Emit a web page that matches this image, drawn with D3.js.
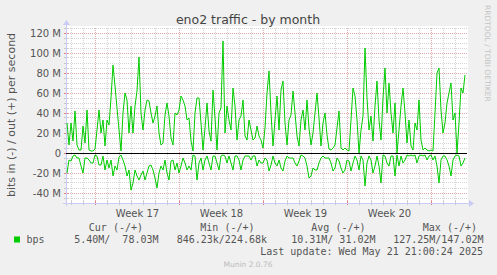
<!DOCTYPE html>
<html><head><meta charset="utf-8">
<script src="https://cdn.jsdelivr.net/npm/d3@7"></script>
<style>html,body{margin:0;padding:0;background:#f0f0f0;overflow:hidden}svg{display:block}text{white-space:pre}</style>
</head><body><svg id="c" width="497" height="275"></svg>
<script>
// Series values in Mbit/s, one sample every 4 hours
const outMbps = [30,8,30,12,42,8,3,3,27,10,
43,3,2,2,4,23,43,20,33,7,
33,28,55,88,67,45,23,2,40,60,
53,20,47,20,47,62,96,40,23,43,
53,52,40,30,37,47,20,8,10,38,
50,37,15,8,40,38,43,57,53,47,
33,35,12,2,40,55,55,30,3,25,
50,22,12,63,35,3,40,45,112,20,
47,33,23,65,47,13,33,37,53,17,
13,33,23,13,15,27,17,13,5,25,
60,82,40,7,33,57,23,63,72,30,
8,33,38,62,40,17,7,33,43,23,
53,25,8,20,40,60,35,7,30,40,
18,4,3,5,8,25,42,5,3,5,
3,2,33,65,57,33,0,23,37,105,
55,23,37,12,47,72,33,13,55,85,
40,70,40,20,50,0,23,47,65,40,
10,33,7,3,30,23,53,13,3,5,
3,2,3,2,40,80,85,43,20,30,
50,60,70,33,40,0,30,65,60,78];
const inMbps = [20,7,8,3,2,5,5,13,20,5,
5,7,10,10,2,3,12,12,3,17,
7,15,7,23,13,17,4,2,7,13,
23,17,37,30,17,23,27,22,18,27,
20,13,12,17,25,35,20,13,17,7,
20,27,8,7,17,10,20,13,5,10,
17,13,17,2,3,27,10,5,17,7,
3,10,17,3,3,10,17,3,2,3,
10,3,10,17,3,3,7,17,7,3,
3,3,7,3,3,13,7,10,10,5,
7,18,12,3,10,13,7,15,18,8,
3,5,5,5,10,13,8,2,3,5,
13,25,23,15,17,17,10,5,3,5,
5,5,10,18,15,5,8,15,20,17,
7,8,18,10,3,7,17,3,7,33,
10,3,7,20,13,3,13,30,2,3,
10,13,3,3,23,2,13,3,10,7,
2,3,2,3,2,10,3,2,3,2,
7,3,2,7,3,13,30,7,3,3,
7,13,23,7,3,2,3,13,10,5];
const yTickValues = [-40,-20,0,20,40,60,80,100,120];
const yTickLabels = ["-40 M","-20 M","0","20 M","40 M","60 M","80 M","100 M","120 M"];
const weekLabels = ["Week 17","Week 18","Week 19","Week 20"];
const legendHeaders = ["Cur (-/+)","Min (-/+)","Avg (-/+)","Max (-/+)"];
const legendValues = ["5.40M/  78.03M","846.23k/224.68k","10.31M/ 31.02M","127.25M/147.02M"];
const seriesName = "bps";
const title = "eno2 traffic - by month";
const yTitle = "bits in (-) / out (+) per second";
const lastUpdate = "Last update: Wed May 21 21:00:24 2025";

const H = 3600e3;
const tEnd = Date.UTC(2025,4,21,21,0,24);
const t0 = tEnd - 800*H;
const times = outMbps.map((_,i)=> new Date(t0 + 2*H + i*4*H));

const svg = d3.select("#c");
const L=66, R=466, T=28, B=203;
const x = d3.scaleUtc().domain([new Date(t0), new Date(tEnd)]).range([L,R]);
const y = d3.scaleLinear().domain([-50e6,125e6]).range([B,T]);
const px = v => Math.floor(v)+0.5;

svg.append("rect").attr("x",L).attr("y",T-2).attr("width",R-L+2).attr("height",B-T+2).attr("fill","#fff");

const g = svg.append("g");
// horizontal grid
d3.range(-45,126,5).forEach(v=>{
  const major = v%20===0;
  g.append("line").attr("x1",L).attr("x2",R+1).attr("y1",px(y(v*1e6))).attr("y2",px(y(v*1e6)))
   .attr("stroke", major? "#e4a8a8":"#d4d4d4").attr("stroke-dasharray","1,1");
});
// vertical grid
const days = d3.utcDay.range(new Date(t0), new Date(tEnd));
days.forEach(d=>{
  const major = d.getUTCDay()===1;
  g.append("line").attr("y1",T).attr("y2",B).attr("x1",px(x(d))).attr("x2",px(x(d)))
   .attr("stroke", major? "#e4a8a8":"#d4d4d4").attr("stroke-dasharray","1,1");
  g.append("line").attr("y1",B-2).attr("y2",B+2).attr("x1",px(x(d))).attr("x2",px(x(d)))
   .attr("stroke", major? "#e08080":"#c8c8c8");
});
// y ticks on axis
d3.range(-45,126,5).forEach(v=>{
  const major = v%20===0;
  g.append("line").attr("x1",L-2).attr("x2",L+2).attr("y1",px(y(v*1e6))).attr("y2",px(y(v*1e6)))
   .attr("stroke", major? "#e08080":"#c8c8c8");
});

// axes
const axc = "#c8ccf4";
svg.append("line").attr("x1",L-3).attr("x2",R+3).attr("y1",px(B)).attr("y2",px(B)).attr("stroke",axc);
svg.append("line").attr("x1",px(L)).attr("x2",px(L)).attr("y1",B+3).attr("y2",T-3).attr("stroke",axc);
svg.append("path").attr("d",`M${R+3},${B-3}L${R+8},${B+0.5}L${R+3},${B+4}Z`).attr("fill",axc);
svg.append("path").attr("d",`M${L-3},${T-3}L${L+0.5},${T-8}L${L+4},${T-3}Z`).attr("fill",axc);

// zero line
svg.append("line").attr("x1",L).attr("x2",R+1).attr("y1",y(0)+0.5).attr("y2",y(0)+0.5).attr("stroke","#000").attr("stroke-width",1.2);

// series
const lineOut = d3.line().x((d,i)=>x(times[i])).y(d=>y(d*1e6));
const lineIn = d3.line().x((d,i)=>x(times[i])).y(d=>y(-d*1e6));
svg.append("path").attr("d",lineOut(outMbps)).attr("fill","none").attr("stroke","#00cc00").attr("stroke-width",1);
svg.append("path").attr("d",lineIn(inMbps)).attr("fill","none").attr("stroke","#00cc00").attr("stroke-width",1);

const sans = "DejaVu Sans", mono = "DejaVu Sans Mono";
// y tick labels
yTickValues.forEach((v,i)=>{
  svg.append("text").attr("x",61).attr("y",y(v*1e6)+3.5).attr("text-anchor","end")
   .attr("font-family",sans).attr("font-size",10).attr("fill","#555").text(yTickLabels[i]);
});
// week labels
const mondays = d3.utcMonday.range(new Date(t0), new Date(tEnd));
weekLabels.forEach((w,i)=>{
  const mid = new Date(+mondays[i] + 3.5*24*H);
  svg.append("text").attr("x",x(mid)).attr("y",216.5).attr("text-anchor","middle")
   .attr("font-family",sans).attr("font-size",10).attr("fill","#555").text(w);
});
// title
svg.append("text").attr("x",248).attr("y",24).attr("text-anchor","middle")
 .attr("font-family",sans).attr("font-size",12.5).attr("fill","#444").text(title);
// y title
svg.append("text").attr("transform","translate(15,115) rotate(-90)").attr("text-anchor","middle")
 .attr("font-family",sans).attr("font-size",11).attr("fill","#555").text(yTitle);
// rrdtool watermark
svg.append("text").attr("transform","translate(485,5) rotate(90)").attr("text-anchor","start")
 .attr("font-family",sans).attr("font-size",7.5).attr("fill","#c4c4c4").text("RRDTOOL / TOBI OETIKER");

// legend
const hdrEnds = [143,254.5,365.5,477];
const valEnds = [158.5,267,375.5,483.5];
legendHeaders.forEach((h,i)=>{
  svg.append("text").attr("x",hdrEnds[i]).attr("y",231).attr("text-anchor","end")
   .attr("font-family",mono).attr("font-size",10).attr("fill","#555").text(h);
});
legendValues.forEach((h,i)=>{
  svg.append("text").attr("x",valEnds[i]).attr("y",243).attr("text-anchor","end")
   .attr("font-family",mono).attr("font-size",10).attr("fill","#555").text(h);
});
svg.append("rect").attr("x",14).attr("y",236.5).attr("width",6).attr("height",6).attr("fill","#00cc00");
svg.append("text").attr("x",26.5).attr("y",243).attr("font-family",mono).attr("font-size",10).attr("fill","#555").text(seriesName);
svg.append("text").attr("x",483).attr("y",255).attr("text-anchor","end")
 .attr("font-family",mono).attr("font-size",10).attr("fill","#555").text(lastUpdate);
svg.append("text").attr("x",248).attr("y",266.5).attr("text-anchor","middle")
 .attr("font-family",sans).attr("font-size",7.5).attr("fill","#bbb").text("Munin 2.0.76");
</script></body></html>
